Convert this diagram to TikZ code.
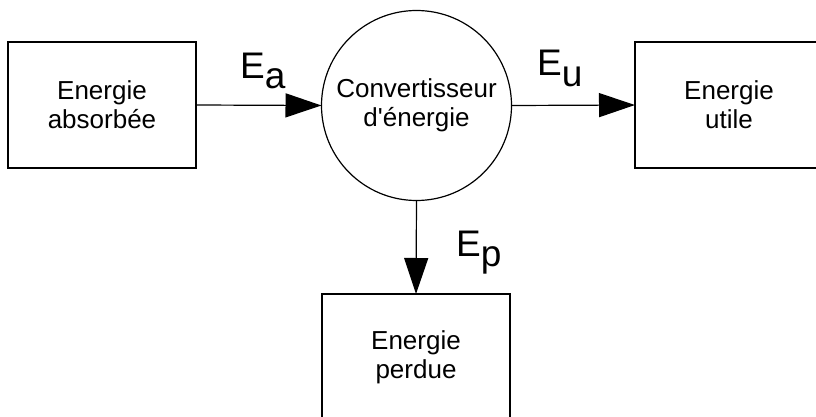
\documentclass[tikz,border=0pt]{standalone}
\usepackage{fontspec}
\setmainfont{Liberation Sans}[Ligatures=TeXOff]
\usetikzlibrary{arrows.meta}
\begin{document}
\begin{tikzpicture}[x=1pt,y=-1pt,
  box/.style={draw,line width=1.2pt,minimum width=188pt,minimum height=126pt,inner sep=0pt,outer sep=0pt,align=center,font=\fontsize{26}{29}\selectfont},
  conv/.style={draw,circle,line width=1.2pt,minimum size=190pt,inner sep=0pt,outer sep=0pt,align=center,font=\fontsize{26}{29}\selectfont},
  arr/.style={line width=1.2pt,-{Triangle[length=36pt,width=24pt]}},
  lbl/.style={inner sep=0pt,anchor=base west,font=\fontsize{37}{40}\selectfont}]
\clip (0,0) rectangle (816,417);
\fill[white] (0,0) rectangle (816,417);
\node[box] (a) at (102,105) {Energie\\absorbée};
\node[conv] (c) at (416.5,105.5) {Convertisseur\\d'énergie};
\node[box] (u) at (729,105) {Energie\\utile};
\node[box] (p) at (416,357) {Energie\\perdue};
\draw[arr] (a.east) -- (c.west);
\draw[arr] (c.east) -- (u.west);
\draw[arr] (c.south) -- (p.north);
\node[lbl] (la) at (240,79) {E\raisebox{-10pt}{a}};
\node[lbl] (lu) at (537,76) {E\raisebox{-11pt}{u}};
\node[lbl] (lp) at (456,256) {E\raisebox{-10pt}{p}};
\end{tikzpicture}
\end{document}
